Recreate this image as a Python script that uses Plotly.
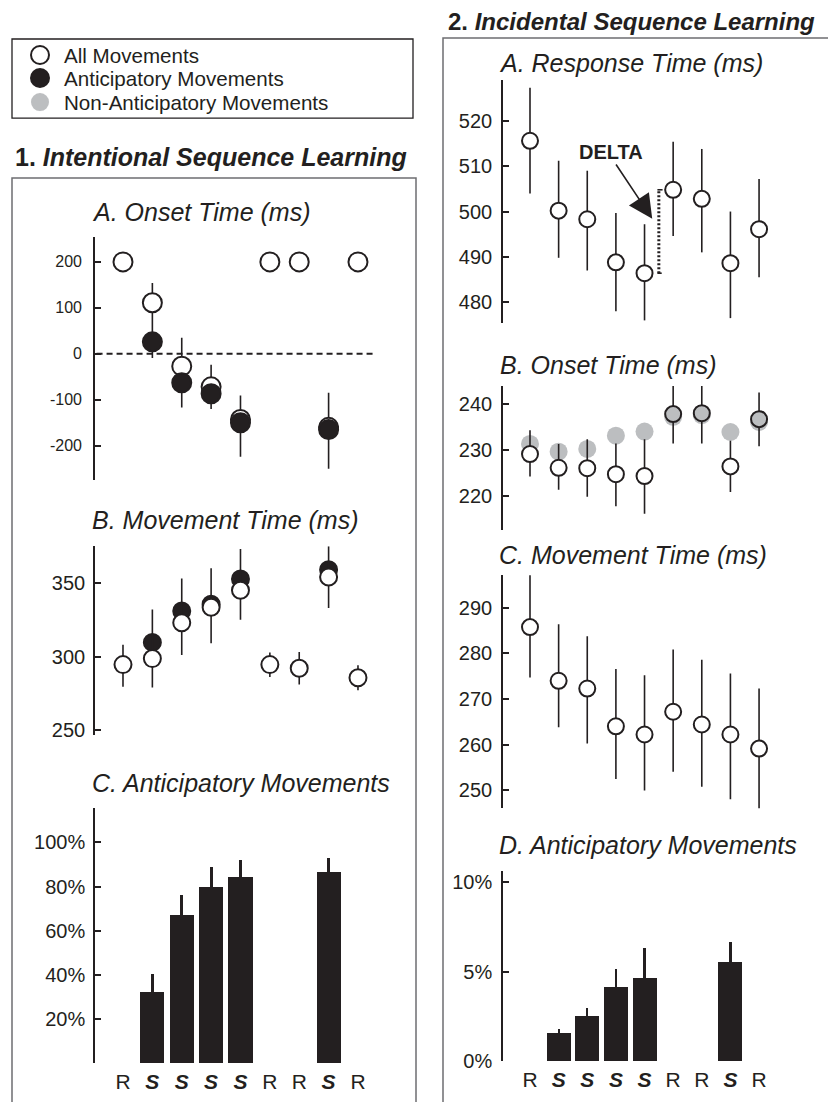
import plotly.graph_objects as go

# ---------------- data ----------------
positions = [1, 2, 3, 4, 5, 6, 7, 8, 9]
trial_labels = ["R", "S", "S", "S", "S", "R", "R", "S", "R"]

# 1A Onset time (ms)
la_ticks = [-200, -100, 0, 100, 200]
la_all = [200, 111, -27, -72, -143, 200, 200, -160, 200]
la_antic = [None, 26, -63, -87, -150, None, None, -165, None]
la_err_top = [None, 154, 35, -24, -91, None, None, -85, None]
la_err_bot = [None, -9, -117, -120, -224, None, None, -250, None]

# 1B Movement time (ms)
lb_ticks = [250, 300, 350]
lb_all = [294.5, 298.6, 323, 333.5, 345, 294.5, 292, 354, 285.6]
lb_antic = [None, 309.6, 331, 335.6, 352.7, None, None, 359, None]
lb_err_top = [308, 332, 353, 360, 373, 302.7, 303, 375, 294]
lb_err_bot = [279.5, 279, 301, 309, 325, 286, 281, 333, 277]

# 1C Anticipatory movements (%)
lc_ticks = [20, 40, 60, 80, 100]
lc_pct = [None, 32, 67, 79.5, 84, None, None, 86.5, None]
lc_err_top = [None, 40.5, 76, 89, 92, None, None, 92.7, None]

# 2A Response time (ms)
ra_ticks = [480, 490, 500, 510, 520]
ra_all = [515.6, 500.2, 498.3, 488.8, 486.4, 504.8, 502.8, 488.6, 496.1]
ra_top = [527.3, 511.2, 509, 499.7, 497.2, 515.4, 513.8, 500, 507.2]
ra_bot = [504, 489.8, 487, 478, 476, 494.6, 491, 476.5, 485.5]

# 2B Onset time (ms)
rb_ticks = [220, 230, 240]
rb_all = [229.1, 226.1, 226.0, 224.7, 224.3, 237.8, 238.0, 226.4, 236.7]
rb_non = [231.3, 229.6, 230.2, 233.1, 234.0, 237.2, 237.6, 233.9, 236.1]
rb_top = [234.3, 231.3, 232.3, 231.4, 232.3, 244.0, 244.5, 232.0, 242.5]
rb_bot = [224.2, 221.3, 219.8, 217.7, 216.1, 231.4, 231.4, 220.8, 230.8]

# 2C Movement time (ms)
rc_ticks = [250, 260, 270, 280, 290]
rc_all = [285.8, 274.0, 272.3, 264.0, 262.2, 267.2, 264.4, 262.2, 259.1]
rc_top = [297.3, 286.4, 283.8, 276.6, 275.2, 280.9, 278.6, 275.6, 272.3]
rc_bot = [274.7, 263.8, 260.2, 252.4, 249.9, 254.0, 250.7, 248.0, 245.8]

# 2D Anticipatory movements (%)
rd_ticks = [0, 5, 10]
rd_pct = [None, 1.58, 2.54, 4.14, 4.66, None, None, 5.54, None]
rd_err_top = [None, 1.79, 3.0, 5.15, 6.3, None, None, 6.66, None]

# ---------------- style ----------------
W, H = 828, 1102
YS = 1.0104  # vertical compensation observed in the page capture
DARK = "#231f20"
GRAY = "#bcbec0"
BOX = "#6d6e71"
FONT = "Liberation Sans, Arial, sans-serif"


def xd(a, b):
    return [a / W, b / W]


def yd(top, bottom):
    return [1 - bottom * YS / H, 1 - top * YS / H]


def px(x, y):
    return x / W, 1 - y * YS / H


def up(vals, tops):
    return [(t - v) if (t is not None and v is not None) else 0 for v, t in zip(vals, tops)]


def down(vals, bots):
    return [(v - b) if (b is not None and v is not None) else 0 for v, b in zip(vals, bots)]


def errbar(vals, tops, bots, thick=1.6):
    return dict(type="data", symmetric=False, array=up(vals, tops),
                arrayminus=down(vals, bots) if bots is not None else [0] * len(vals),
                color=DARK, thickness=thick, width=0, visible=True)


tick_text = [("<b><i>%s</i></b>" % t) if t == "S" else t for t in trial_labels]

fig = go.Figure()

# ---- 1A ----
fig.add_trace(go.Scatter(x=positions, y=la_all, mode="markers", xaxis="x", yaxis="y",
                         marker=dict(size=19, color="white", line=dict(color=DARK, width=2)),
                         error_y=errbar(la_all, la_err_top, la_err_bot), showlegend=False))
fig.add_trace(go.Scatter(x=positions, y=la_antic, mode="markers", xaxis="x", yaxis="y",
                         marker=dict(size=19, color=DARK, line=dict(color=DARK, width=2)),
                         showlegend=False))
# ---- 1B ----
fig.add_trace(go.Scatter(x=positions, y=lb_antic, mode="markers", xaxis="x2", yaxis="y2",
                         marker=dict(size=17, color=DARK, line=dict(color=DARK, width=2)),
                         showlegend=False))
fig.add_trace(go.Scatter(x=positions, y=lb_all, mode="markers", xaxis="x2", yaxis="y2",
                         marker=dict(size=17, color="white", line=dict(color=DARK, width=2)),
                         error_y=errbar(lb_all, lb_err_top, lb_err_bot), showlegend=False))
# ---- 1C ----
fig.add_trace(go.Bar(x=positions, y=lc_pct, xaxis="x3", yaxis="y3", width=0.82,
                     marker=dict(color=DARK, line=dict(width=0)),
                     error_y=errbar(lc_pct, lc_err_top, None, thick=3), showlegend=False))
# ---- 2A ----
fig.add_trace(go.Scatter(x=positions, y=ra_all, mode="markers", xaxis="x4", yaxis="y4",
                         marker=dict(size=16, color="white", line=dict(color=DARK, width=2)),
                         error_y=errbar(ra_all, ra_top, ra_bot), showlegend=False))
# ---- 2B ----
fig.add_trace(go.Scatter(x=positions, y=rb_non, mode="markers", xaxis="x5", yaxis="y5",
                         marker=dict(size=18, color=GRAY, line=dict(width=0)),
                         showlegend=False))
rb_fill = [GRAY if abs(a - n) < 1.0 else "white" for a, n in zip(rb_all, rb_non)]
fig.add_trace(go.Scatter(x=positions, y=rb_all, mode="markers", xaxis="x5", yaxis="y5",
                         marker=dict(size=16, color=rb_fill, line=dict(color=DARK, width=2)),
                         error_y=errbar(rb_all, rb_top, rb_bot), showlegend=False))
# ---- 2C ----
fig.add_trace(go.Scatter(x=positions, y=rc_all, mode="markers", xaxis="x6", yaxis="y6",
                         marker=dict(size=16, color="white", line=dict(color=DARK, width=2)),
                         error_y=errbar(rc_all, rc_top, rc_bot), showlegend=False))
# ---- 2D ----
fig.add_trace(go.Bar(x=positions, y=rd_pct, xaxis="x7", yaxis="y7", width=0.84,
                     marker=dict(color=DARK, line=dict(width=0)),
                     error_y=errbar(rd_pct, rd_err_top, None, thick=2.2), showlegend=False))

# ---------------- axes ----------------
LX = dict(domain=xd(95, 385), range=[0.047, 9.92])
RX = dict(domain=xd(503, 800), range=[0.057, 10.43])


def xaxis(base, anchor, labels=False, standoff=4):
    d = dict(base)
    d.update(anchor=anchor, showgrid=False, zeroline=False, showline=False, fixedrange=True)
    if labels:
        d.update(tickmode="array", tickvals=positions, ticktext=tick_text, ticks="",
                 tickfont=dict(family=FONT, size=21, color=DARK), ticklabelstandoff=standoff)
    else:
        d.update(visible=False)
    return d


def yaxis(dom, rng, anchor, tickvals, size=20, suffix="", standoff=6):
    labels = [("%g" % v) + suffix for v in tickvals]
    return dict(domain=dom, range=rng, anchor=anchor, showgrid=False, zeroline=False,
                showline=True, linecolor=DARK, linewidth=1.6, ticks="inside", ticklen=6,
                tickwidth=1.8, tickcolor=DARK, tickmode="array", tickvals=tickvals,
                ticktext=labels, tickfont=dict(family=FONT, size=size, color=DARK),
                ticklabelstandoff=standoff, fixedrange=True)


layout_axes = dict(
    xaxis=xaxis(LX, "y"),
    yaxis=yaxis(yd(237, 480), [-275, 254], "x", la_ticks, size=16, standoff=8),
    xaxis2=xaxis(LX, "y2"),
    yaxis2=yaxis(yd(546, 735), [246.5, 375], "x2", lb_ticks, size=20, standoff=4),
    xaxis3=xaxis(LX, "y3", labels=True, standoff=4),
    yaxis3=yaxis(yd(808, 1063), [0, 115.4], "x3", lc_ticks, size=20, suffix="%", standoff=4),
    xaxis4=xaxis(RX, "y4"),
    yaxis4=yaxis(yd(80, 323), [475.4, 529], "x4", ra_ticks, size=20, standoff=5),
    xaxis5=xaxis(RX, "y5"),
    yaxis5=yaxis(yd(386, 530), [212.5, 243.9], "x5", rb_ticks, size=20, standoff=5),
    xaxis6=xaxis(RX, "y6"),
    yaxis6=yaxis(yd(575, 808), [246, 297.2], "x6", rc_ticks, size=20, standoff=5),
    xaxis7=xaxis(RX, "y7", labels=True, standoff=4),
    yaxis7=yaxis(yd(871, 1061), [0, 10.6], "x7", rd_ticks, size=20, suffix="%", standoff=5),
)

# ---------------- shapes ----------------
shapes = []
# panel frames
x0, y0 = px(12, 178)
x1, y1 = px(416, 1120)
shapes.append(dict(type="rect", xref="paper", yref="paper", x0=x0, y0=y1, x1=x1, y1=y0,
                   line=dict(color=BOX, width=1.5), fillcolor="rgba(0,0,0,0)", layer="below"))
x0, y0 = px(443, 38)
x1, y1 = px(840, 1120)
shapes.append(dict(type="rect", xref="paper", yref="paper", x0=x0, y0=y1, x1=x1, y1=y0,
                   line=dict(color=BOX, width=1.5), fillcolor="rgba(0,0,0,0)", layer="below"))
# legend frame
x0, y0 = px(12, 39)
x1, y1 = px(413, 118)
shapes.append(dict(type="rect", xref="paper", yref="paper", x0=x0, y0=y1, x1=x1, y1=y0,
                   line=dict(color=DARK, width=1.3), fillcolor="rgba(0,0,0,0)"))
# legend symbols
for cy, fill, lw in [(55, "white", 2), (78, DARK, 2), (102, GRAY, 0)]:
    r = 9
    ax0, ay0 = px(40 - r, cy - r)
    ax1, ay1 = px(40 + r, cy + r)
    shapes.append(dict(type="circle", xref="paper", yref="paper", x0=ax0, y0=ay1, x1=ax1, y1=ay0,
                       fillcolor=fill, line=dict(color=DARK if lw else GRAY, width=max(lw, 0.1))))
# zero reference line in 1A
shapes.append(dict(type="line", xref="x", yref="y", x0=0.1, x1=9.5, y0=0, y1=0,
                   line=dict(color=DARK, width=2, dash="6px,4px")))
# DELTA dotted bracket between position 5 and 6 in 2A
shapes.append(dict(type="line", xref="x4", yref="y4", x0=5.5, x1=5.5, y0=ra_all[4], y1=ra_all[5],
                   line=dict(color=DARK, width=3, dash="2px,2px")))
shapes.append(dict(type="line", xref="x4", yref="y4", x0=5.45, x1=5.63, y0=ra_all[5], y1=ra_all[5],
                   line=dict(color=DARK, width=1.6)))
shapes.append(dict(type="line", xref="x4", yref="y4", x0=5.45, x1=5.6, y0=ra_all[4], y1=ra_all[4],
                   line=dict(color=DARK, width=1.6)))

# ---------------- annotations ----------------
ann = []


def text(x, y, s, size, anchor="left"):
    ax, ay = px(x, y)
    ann.append(dict(xref="paper", yref="paper", x=ax, y=ay, text=s, showarrow=False,
                    xanchor=anchor, yanchor="middle",
                    font=dict(family=FONT, size=size, color=DARK)))


text(62, 55, "All Movements", 20.6)
text(62, 78, "Anticipatory Movements", 20.6)
text(62, 102, "Non-Anticipatory Movements", 20.6)
text(13, 157, "<b>1. <i>Intentional Sequence Learning</i></b>", 25)
text(446, 21, "<b>2. <i>Incidental Sequence Learning</i></b>", 24)

text(90, 212, "<i>A. Onset Time (ms)</i>", 25)
text(90, 520, "<i>B. Movement Time (ms)</i>", 25)
text(90, 783, "<i>C. Anticipatory Movements</i>", 25)
text(497, 63, "<i>A. Response Time (ms)</i>", 25)
text(498, 365, "<i>B. Onset Time (ms)</i>", 25)
text(497, 555, "<i>C. Movement Time (ms)</i>", 25)
text(497, 845, "<i>D. Anticipatory Movements</i>", 25)

# DELTA label and arrow
ann.append(dict(xref="x4", yref="y4", x=3.83, y=513.2, text="<b>DELTA</b>", showarrow=False,
                xanchor="center", yanchor="middle", font=dict(family=FONT, size=20, color=DARK)))
ann.append(dict(xref="x4", yref="y4", axref="x4", ayref="y4", x=5.27, y=498.4, ax=3.97, ay=510.7,
                text="", showarrow=True, arrowhead=2, arrowsize=3, arrowwidth=1.6,
                arrowcolor=DARK))

fig.update_layout(
    width=W, height=H, autosize=False,
    margin=dict(l=0, r=0, t=0, b=0),
    paper_bgcolor="white", plot_bgcolor="rgba(0,0,0,0)",
    shapes=shapes, annotations=ann, bargap=0, barmode="overlay",
    font=dict(family=FONT, color=DARK),
    **layout_axes,
)

page_fix = (
    "var de=document.documentElement, b=document.body;"
    "[de,b].forEach(function(e){e.style.margin='0';e.style.padding='0';"
    "e.style.overflow='hidden';e.style.height='1102px';});"
)

fig.write_html("out.html", config={"displayModeBar": False}, post_script=page_fix)
